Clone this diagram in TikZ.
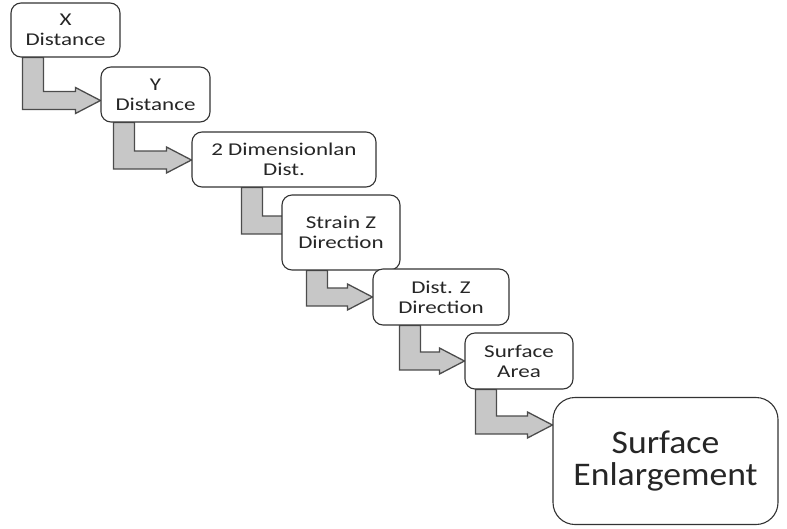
\documentclass[tikz,border=0pt]{standalone}
\usepackage{fontspec}
\newfontfamily\stagefont{Carlito}[FakeStretch=1.28]
\newfontfamily\bigstagefont{Carlito}[FakeStretch=1.08]
\usetikzlibrary{calc,backgrounds}
\tikzset{
  stage/.style={draw=black!80,line width=1.1pt,fill=white,rounded corners=10pt,
    align=center,text=black!85,inner sep=0pt,
    font=\stagefont\fontsize{18}{20}\selectfont},
  bigstage/.style={stage,rounded corners=22pt,
    font=\bigstagefont\fontsize{33}{32}\selectfont},
  bentfill/.style={fill=black!22,draw=black!70,line width=1.3pt,line join=miter},
}
% bent arrow: [tip shift] from node, to node, shaft offset, tip offset (down)
\newcommand{\bentarrow}[5][0]{%
  \draw[bentfill] let \p1=([xshift=#4pt]#2.south west),
                      \p2=([xshift=#1pt,yshift={-(#5)*1pt}]#3.west) in
    (\x1,\y1) -- (\x1,\y2-9pt) -- (\x2-25pt,\y2-9pt) -- (\x2-25pt,\y2-13pt)
    -- (\x2,\y2) -- (\x2-25pt,\y2+13pt) -- (\x2-25pt,\y2+9pt)
    -- (\x1+21pt,\y2+9pt) -- (\x1+21pt,\y1) -- cycle;}
\begin{document}
\begin{tikzpicture}[x=1pt,y=-1pt]
   \useasboundingbox (0,0) rectangle (787,528);
   %stages
   \node[stage,minimum width=109pt,minimum height=54pt] (xdist) at (65.5,30) {X\\Distance};
   \node[stage,minimum width=109pt,minimum height=55pt] (ydist) at (155.5,94.5) {Y\\Distance};
   \node[stage,minimum width=184pt,minimum height=55pt] (twodim) at (284,159.5) {2 Dimensionlan\\Dist.};
   \node[stage,minimum width=118pt,minimum height=75pt] (strainz) at (341,232.5) {Strain Z\\Direction};
   \node[stage,minimum width=136pt,minimum height=56pt] (distz) at (441,297) {Dist. Z\\Direction};
   \node[stage,minimum width=108pt,minimum height=56pt] (area) at (519,361) {Surface\\Area};
   \node[bigstage,minimum width=225pt,minimum height=127pt] (enlarge) at (665.5,461) {Surface\\Enlargement};
   %arrows
   \begin{scope}[on background layer]
     \bentarrow{xdist}{ydist}{12}{6}
     \bentarrow{ydist}{twodim}{13}{0.5}
     \bentarrow[30]{twodim}{strainz}{50}{-7.5}
     \bentarrow{strainz}{distz}{25}{0}
     \bentarrow{distz}{area}{27}{0}
     \bentarrow{area}{enlarge}{11}{-36}
   \end{scope}
\end{tikzpicture}
\end{document}
